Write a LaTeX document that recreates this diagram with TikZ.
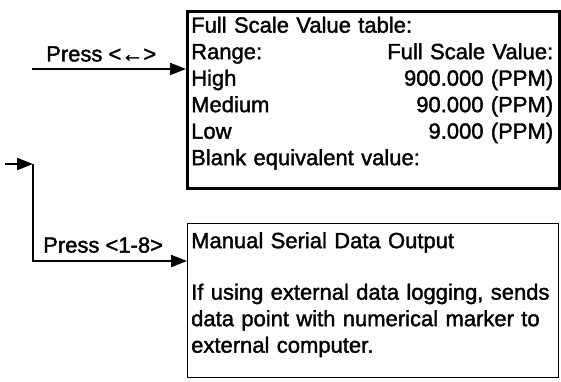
\documentclass[tikz,border=0pt]{standalone}
\usepackage{fontspec}
\setmainfont{Liberation Sans}[FakeBold=1.6]
\usetikzlibrary{arrows.meta}
\begin{document}
\begin{tikzpicture}[x=1pt,y=-1pt,
  arr/.style={line width=2pt,-{Triangle[length=16pt,width=12pt]}},
  boxthick/.style={draw,line width=2.6pt,anchor=north west,inner sep=0pt},
  boxthin/.style={draw,line width=0.9pt,anchor=north west,inner sep=0pt},
  txt/.style={anchor=north west,inner sep=0pt,text width=362pt,align=left,font=\fontsize{22}{26.5}\selectfont},
  lab/.style={anchor=west,inner sep=0pt,font=\fontsize{22}{26}\selectfont}]
\useasboundingbox (0,0) rectangle (561,381);
% boxes
\node[boxthick,minimum width=372pt,minimum height=177pt] (fsvbox) at (186,10) {};
\node[txt] (fsvtext) at (191,16.5) {Full Scale Value table:\\
Range:\hfill Full Scale Value:\\
High\hfill 900.000 (PPM)\\
Medium\hfill 90.000 (PPM)\\
Low\hfill 9.000 (PPM)\\
Blank equivalent value:};
\node[boxthin,minimum width=371pt,minimum height=154pt] (msbox) at (187,223) {};
\node[txt] (mstext) at (191,232) {Manual Serial Data Output\\[25pt]
If using external data logging, sends\\
data point with numerical marker to\\
external computer.};
% connectors
\coordinate (in1) at (32,69);
\draw[arr] (in1) -- (in1 -| fsvbox.west);
\node[lab] (lab1) at (46,54) {Press <←>};
\coordinate (s0) at (5,164);
\coordinate (j) at (33,164);
\coordinate (c2) at (33,261);
\draw[arr] (s0) -- (j);
\draw[arr] (j) -- (c2) -- (c2 -| msbox.west);
\node[lab] (lab2) at (43,245) {Press <1-8>};
\end{tikzpicture}
\end{document}
